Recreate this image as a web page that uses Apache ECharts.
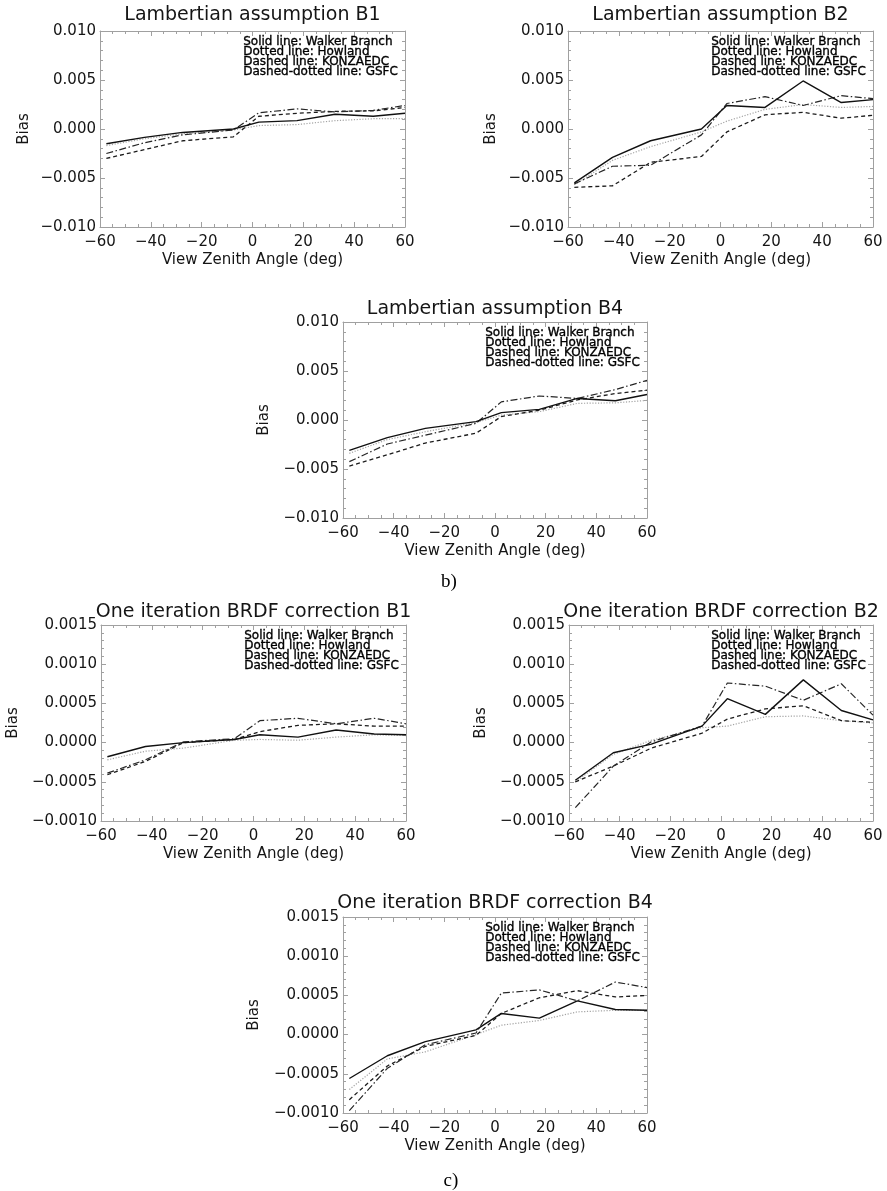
<!DOCTYPE html>
<html>
<head>
<meta charset="utf-8">
<title>View zenith angle bias</title>
<script src="https://cdn.jsdelivr.net/npm/echarts@6/dist/echarts.min.js"></script>
<style>
  html, body { margin: 0; padding: 0; background: #ffffff; }
  #chart { width: 887px; height: 1191px; }
</style>
</head>
<body>
<div id="chart"></div>
<script>
// View zenith angle bins (deg)
const vza = [-57.5, -42.5, -27.5, -7.5, 2.5, 17.5, 32.5, 47.5, 60];

// Axis tick values
const vzaTicks = [-60, -40, -20, 0, 20, 40, 60];
const lambTicks = [-0.010, -0.005, 0.000, 0.005, 0.010];
const brdfTicks = [-0.0010, -0.0005, 0.0000, 0.0005, 0.0010, 0.0015];

// Legend text (line style : site)
const legendLines = [
  'Solid line: Walker Branch',
  'Dotted line: Howland',
  'Dashed line: KONZAEDC',
  'Dashed-dotted line: GSFC'
];

// Lambertian assumption, band 1
const lambB1Walker  = [-0.0015, -0.00085, -0.00035, 0.0000, 0.0007, 0.00085, 0.0015, 0.0013, 0.0016];
const lambB1Howland = [-0.0017, -0.0010, -0.0005, -0.0001, 0.00035, 0.00045, 0.00085, 0.00105, 0.00105];
const lambB1Konza   = [-0.0030, -0.0021, -0.0012, -0.0008, 0.0013, 0.0016, 0.0018, 0.00185, 0.0022];
const lambB1Gsfc    = [-0.0025, -0.0014, -0.0006, -0.0001, 0.00165, 0.00205, 0.00175, 0.0019, 0.0024];

// Lambertian assumption, band 2
const lambB2Walker  = [-0.0055, -0.0029, -0.0012, 0.0000, 0.0024, 0.0022, 0.0049, 0.0027, 0.0030];
const lambB2Howland = [-0.0057, -0.0032, -0.0018, -0.0003, 0.0008, 0.0020, 0.0025, 0.0022, 0.0023];
const lambB2Konza   = [-0.00595, -0.0058, -0.0034, -0.0028, -0.0003, 0.00145, 0.0017, 0.0011, 0.0014];
const lambB2Gsfc    = [-0.0056, -0.0038, -0.0037, -0.0006, 0.0026, 0.0033, 0.0024, 0.0034, 0.0031];

// Lambertian assumption, band 4
const lambB4Walker  = [-0.0031, -0.0018, -0.00085, -0.00017, 0.00075, 0.00108, 0.0022, 0.00197, 0.0026];
const lambB4Howland = [-0.0034, -0.0020, -0.0012, -0.00027, 0.0005, 0.00085, 0.0017, 0.00175, 0.0020];
const lambB4Konza   = [-0.0047, -0.00355, -0.00235, -0.00135, 0.00035, 0.0010, 0.00205, 0.0027, 0.00305];
const lambB4Gsfc    = [-0.00425, -0.00245, -0.00155, -0.00035, 0.00185, 0.00245, 0.0022, 0.0031, 0.00405];

// One iteration BRDF correction, band 1
const brdfB1Walker  = [-0.00018, -0.00005, 0.00000, 0.00004, 0.00010, 0.00007, 0.00016, 0.00011, 0.00010];
const brdfB1Howland = [-0.00022, -0.00011, -0.00007, 0.00003, 0.00004, 0.00003, 0.00007, 0.00010, 0.00009];
const brdfB1Konza   = [-0.00041, -0.00024, 0.00000, 0.00004, 0.00014, 0.00022, 0.00024, 0.00021, 0.00021];
const brdfB1Gsfc    = [-0.00039, -0.00022, 0.00001, 0.00005, 0.00028, 0.00031, 0.00024, 0.00031, 0.00024];

// One iteration BRDF correction, band 2
const brdfB2Walker  = [-0.00048, -0.00013, -0.00002, 0.00021, 0.00056, 0.00036, 0.00080, 0.00041, 0.00029];
const brdfB2Howland = [-0.00050, -0.00015, 0.00003, 0.00019, 0.00021, 0.00033, 0.00034, 0.00028, 0.00025];
const brdfB2Konza   = [-0.00050, -0.00030, -0.00007, 0.00012, 0.00030, 0.00043, 0.00047, 0.00028, 0.00026];
const brdfB2Gsfc    = [-0.00083, -0.00030, 0.00001, 0.00021, 0.00076, 0.00072, 0.00054, 0.00075, 0.00035];

// One iteration BRDF correction, band 4
const brdfB4Walker  = [-0.00056, -0.00027, -0.00009, 0.00006, 0.00027, 0.00021, 0.00043, 0.00032, 0.00031];
const brdfB4Howland = [-0.00070, -0.00031, -0.00022, 0.00000, 0.00012, 0.00018, 0.00029, 0.00031, 0.00031];
const brdfB4Konza   = [-0.00083, -0.00040, -0.00015, -0.00001, 0.00027, 0.00047, 0.00056, 0.00048, 0.00050];
const brdfB4Gsfc    = [-0.00097, -0.00043, -0.00013, 0.00002, 0.00053, 0.00057, 0.00043, 0.00067, 0.00060];

const FONT = '"DejaVu Sans", "Noto Sans", sans-serif';
const TEXT = '#151515';
const AXIS_GRAY = '#a0a0a0';

// Solid, dotted, dashed, dash-dot
const lineStyles = [
  { color: '#111111', width: 1.4, type: 'solid' },
  { color: '#a4a4a4', width: 1.2, type: [1.2, 1.6] },
  { color: '#1c1c1c', width: 1.3, type: [4, 3] },
  { color: '#262626', width: 1.2, type: [7, 2.5, 1.5, 2.5] }
];

const panels = [
  { title: 'Lambertian assumption B1', ticks: lambTicks, dec: 3,
    data: [lambB1Walker, lambB1Howland, lambB1Konza, lambB1Gsfc],
    box: [100, 31, 305, 196], titleY: 15, nameGap: 76 },
  { title: 'Lambertian assumption B2', ticks: lambTicks, dec: 3,
    data: [lambB2Walker, lambB2Howland, lambB2Konza, lambB2Gsfc],
    box: [568, 31, 305, 196], titleY: 15, nameGap: 77 },
  { title: 'Lambertian assumption B4', ticks: lambTicks, dec: 3,
    data: [lambB4Walker, lambB4Howland, lambB4Konza, lambB4Gsfc],
    box: [343, 322, 304, 196], titleY: 309, nameGap: 79 },
  { title: 'One iteration BRDF correction B1', ticks: brdfTicks, dec: 4,
    data: [brdfB1Walker, brdfB1Howland, brdfB1Konza, brdfB1Gsfc],
    box: [101, 625, 305, 196], titleY: 612, nameGap: 88 },
  { title: 'One iteration BRDF correction B2', ticks: brdfTicks, dec: 4,
    data: [brdfB2Walker, brdfB2Howland, brdfB2Konza, brdfB2Gsfc],
    box: [569, 625, 304, 196], titleY: 612, nameGap: 88 },
  { title: 'One iteration BRDF correction B4', ticks: brdfTicks, dec: 4,
    data: [brdfB4Walker, brdfB4Howland, brdfB4Konza, brdfB4Gsfc],
    box: [343, 917, 304, 196], titleY: 903, nameGap: 89 }
];

const minus = (s) => s.replace('-', '\u2212');

const grid = [], xAxis = [], yAxis = [], series = [], title = [], graphic = [];

function xAxisDef(gi, pos, showLabels) {
  return {
    type: 'value', gridIndex: gi, position: pos,
    min: vzaTicks[0], max: vzaTicks[vzaTicks.length - 1],
    interval: vzaTicks[1] - vzaTicks[0],
    axisLine: { show: true, onZero: false, lineStyle: { color: AXIS_GRAY, width: 1 } },
    axisTick: { show: true, inside: true, length: 5, lineStyle: { color: AXIS_GRAY, width: 1 } },
    minorTick: { show: true, splitNumber: 4, length: 3, lineStyle: { color: AXIS_GRAY, width: 1 } },
    splitLine: { show: false },
    minorSplitLine: { show: false },
    axisLabel: {
      show: showLabels, margin: 8, fontSize: 15, fontFamily: FONT, color: TEXT,
      showMinLabel: true, showMaxLabel: true, hideOverlap: false,
      formatter: (v) => minus(String(Math.round(v)))
    },
    name: showLabels ? 'View Zenith Angle (deg)' : '',
    nameLocation: 'middle', nameGap: 33, nameMoveOverlap: false,
    nameTextStyle: { fontSize: 15, fontFamily: FONT, color: TEXT, verticalAlign: 'middle' },
    silent: true
  };
}

function yAxisDef(gi, pos, showLabels, p) {
  const t = p.ticks;
  return {
    type: 'value', gridIndex: gi, position: pos,
    min: t[0], max: t[t.length - 1], interval: t[1] - t[0],
    axisLine: { show: true, onZero: false, lineStyle: { color: AXIS_GRAY, width: 1 } },
    axisTick: { show: true, inside: true, length: 5, lineStyle: { color: AXIS_GRAY, width: 1 } },
    minorTick: { show: true, splitNumber: 5, length: 3, lineStyle: { color: AXIS_GRAY, width: 1 } },
    splitLine: { show: false },
    minorSplitLine: { show: false },
    axisLabel: {
      show: showLabels, margin: 4, fontSize: 15, fontFamily: FONT, color: TEXT,
      showMinLabel: true, showMaxLabel: true, hideOverlap: false,
      formatter: (v) => minus((Math.abs(v) < 1e-12 ? 0 : v).toFixed(p.dec))
    },
    name: showLabels ? 'Bias' : '',
    nameLocation: 'middle', nameGap: p.nameGap, nameMoveOverlap: false,
    nameTextStyle: { fontSize: 15, fontFamily: FONT, color: TEXT, verticalAlign: 'middle' },
    silent: true
  };
}

panels.forEach((p, gi) => {
  const [left, top, width, height] = p.box;
  grid.push({ left, top, width, height, containLabel: false, outerBoundsMode: 'none' });

  xAxis.push(xAxisDef(gi, 'bottom', true));
  xAxis.push(xAxisDef(gi, 'top', false));
  yAxis.push(yAxisDef(gi, 'left', true, p));
  yAxis.push(yAxisDef(gi, 'right', false, p));

  p.data.forEach((vals, k) => {
    series.push({
      type: 'line',
      name: legendLines[k],
      xAxisIndex: gi * 2,
      yAxisIndex: gi * 2,
      data: vza.map((x, j) => [x, vals[j]]),
      symbol: 'none',
      lineStyle: lineStyles[k],
      clip: true,
      silent: true,
      animation: false,
      z: 3 + (k === 0 ? 1 : 0)
    });
  });

  title.push({
    text: p.title, left: left + width / 2, top: p.titleY - 10,
    textAlign: 'center', padding: 0,
    textStyle: { fontSize: 19, fontWeight: 'normal', fontFamily: FONT, color: TEXT, lineHeight: 20 }
  });

  // Line-style key in the upper right of each plot
  graphic.push({
    type: 'text', left: left + width - 162, top: top + 5, silent: true, z: 10,
    style: {
      text: legendLines.join('\n'),
      font: '12px "DejaVu Sans", sans-serif',
      lineHeight: 10,
      fill: '#000000',
      stroke: '#000000',
      lineWidth: 0.35
    }
  });
});

// Sub-figure captions
title.push({
  text: 'b)', left: 449, top: 571, textAlign: 'center', padding: 0,
  textStyle: { fontSize: 19, fontWeight: 'normal', fontFamily: '"Liberation Serif", serif', color: '#000', lineHeight: 22 }
});
title.push({
  text: 'c)', left: 451, top: 1170, textAlign: 'center', padding: 0,
  textStyle: { fontSize: 19, fontWeight: 'normal', fontFamily: '"Liberation Serif", serif', color: '#000', lineHeight: 22 }
});

const chart = echarts.init(document.getElementById('chart'), null, { renderer: 'canvas' });
chart.setOption({
  backgroundColor: '#ffffff',
  animation: false,
  title, grid, xAxis, yAxis, series, graphic
});
</script>
</body>
</html>
